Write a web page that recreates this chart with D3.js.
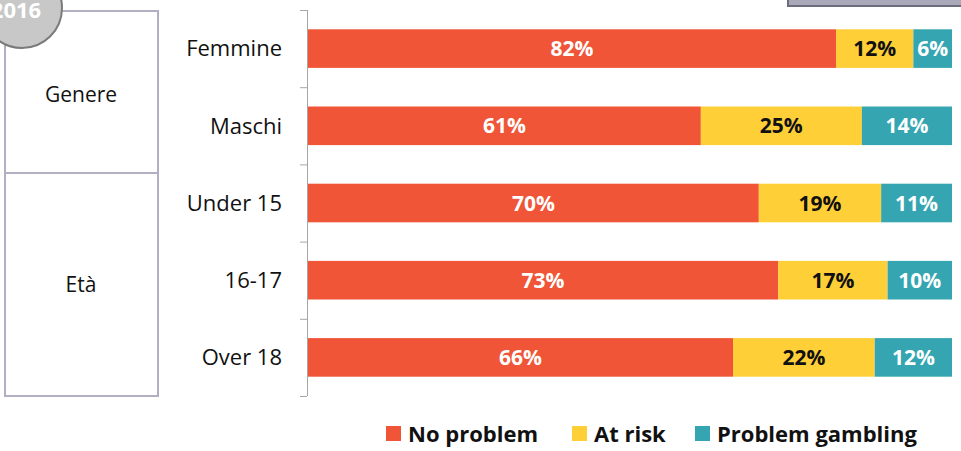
<!DOCTYPE html>
<html>
<head>
<meta charset="utf-8">
<script src="https://cdn.jsdelivr.net/npm/d3@7"></script>
<style>
  body { margin: 0; background: #fff; }
  svg { font-family: "Open Sans", Lato, sans-serif; }
  .cat text { font-size: 22px; fill: #111; font-family: "Open Sans", sans-serif; }
  .seg-label { font-size: 21px; font-weight: bold; }
  .legend text { font-size: 22px; font-weight: bold; fill: #111; }
</style>
</head>
<body>
<div id="chart"></div>
<script>

// data
var categories = ["Femmine", "Maschi", "Under 15", "16-17", "Over 18"];
var series = ["No problem", "At risk", "Problem gambling"];
var noProblem = [82, 61, 70, 73, 66];
var atRisk = [12, 25, 19, 17, 22];
var problemGambling = [6, 14, 11, 10, 12];
var groups = ["Genere", "Età"];
var yearLabel = "2016";

var colors = ["#f05537", "#fecf37", "#34a5b1"];
var labelColors = ["#fff", "#111", "#fff"];

var width = 961, height = 451;

var svg = d3.select("#chart")
    .append("svg")
    .attr("width", width)
    .attr("height", height);

var rows = categories.map(function (c, i) {
    return { cat: c, "No problem": noProblem[i], "At risk": atRisk[i], "Problem gambling": problemGambling[i] };
});

var stacked = d3.stack().keys(series)(rows);

var xScale = d3.scaleLinear()
    .domain([0, 100])
    .range([308, 952]);

var yScale = d3.scaleBand()
    .domain(categories)
    .range([10, 396])
    .paddingInner(0.5)
    .paddingOuter(0.25);

// left group boxes
var boxes = svg.append("g").attr("class", "boxes");
boxes.append("rect")
    .attr("x", 5).attr("y", 11).attr("width", 153).attr("height", 162)
    .attr("fill", "#fff").attr("stroke", "#b0b0c2").attr("stroke-width", 2);
boxes.append("rect")
    .attr("x", 5).attr("y", 173).attr("width", 153).attr("height", 223)
    .attr("fill", "#fff").attr("stroke", "#b0b0c2").attr("stroke-width", 2);
boxes.append("text")
    .attr("x", 81).attr("y", 102).attr("text-anchor", "middle")
    .style("font-size", "21px").attr("fill", "#111")
    .text(groups[0]);
boxes.append("text")
    .attr("x", 81).attr("y", 292).attr("text-anchor", "middle")
    .style("font-size", "21px").attr("fill", "#111")
    .text(groups[1]);

// year badge, cut by the top edge
svg.append("circle")
    .attr("cx", 22).attr("cy", 8).attr("r", 40)
    .attr("fill", "#c8c8c8").attr("stroke", "#7a7a7a").attr("stroke-width", 2);
svg.append("text")
    .attr("x", 16).attr("y", 18).attr("text-anchor", "middle")
    .style("font-size", "22px").style("font-weight", "bold")
    .attr("fill", "#fff")
    .text(yearLabel);

// top-right box edge
svg.append("rect")
    .attr("x", 788).attr("y", -20).attr("width", 200).attr("height", 26)
    .attr("fill", "#a9a9ba").attr("stroke", "#6c6c7c").attr("stroke-width", 2);

// axis: labels at band centers, ticks at band edges
var axis = svg.append("g")
    .attr("class", "cat")
    .attr("transform", "translate(307,0)")
    .call(d3.axisLeft(yScale).tickSize(0).tickPadding(25));
axis.select(".domain").remove();
axis.selectAll("text").attr("dy", "0.35em");

var edges = d3.range(categories.length + 1).map(function (i) {
    return 10 + i * yScale.step();
});

svg.append("line")
    .attr("x1", 307.5).attr("x2", 307.5)
    .attr("y1", 10).attr("y2", 396)
    .attr("stroke", "#a6a6a6").attr("stroke-width", 1);

svg.selectAll(".edge")
    .data(edges).enter()
    .append("line")
    .attr("class", "edge")
    .attr("x1", 300).attr("x2", 307)
    .attr("y1", function (d) { return d + 0.5; })
    .attr("y2", function (d) { return d + 0.5; })
    .attr("stroke", "#a6a6a6");

// bars
var layer = svg.selectAll(".layer")
    .data(stacked).enter()
    .append("g")
    .attr("class", "layer")
    .attr("fill", function (d, i) { return colors[i]; });

layer.selectAll("rect")
    .data(function (d) { return d; }).enter()
    .append("rect")
    .attr("x", function (d) { return xScale(d[0]); })
    .attr("y", function (d) { return yScale(d.data.cat); })
    .attr("width", function (d) { return xScale(d[1]) - xScale(d[0]); })
    .attr("height", yScale.bandwidth());

layer.each(function (s, si) {
    d3.select(this).selectAll(".seg-label")
        .data(s).enter()
        .append("text")
        .attr("class", "seg-label")
        .attr("x", function (d) { return (xScale(d[0]) + xScale(d[1])) / 2; })
        .attr("y", function (d) { return yScale(d.data.cat) + yScale.bandwidth() / 2; })
        .attr("dy", "0.36em")
        .attr("text-anchor", "middle")
        .attr("fill", labelColors[si])
        .text(function (d) { return (d[1] - d[0]) + "%"; });
});

// legend
var legendX = [386, 572, 695];
var legend = svg.selectAll(".legend")
    .data(series).enter()
    .append("g")
    .attr("class", "legend")
    .attr("transform", function (d, i) { return "translate(" + legendX[i] + ",426)"; });

legend.append("rect")
    .attr("width", 15).attr("height", 15)
    .attr("fill", function (d, i) { return colors[i]; });

legend.append("text")
    .attr("x", 22).attr("y", 8)
    .attr("dy", "0.36em")
    .text(function (d) { return d; });

</script>
</body>
</html>
